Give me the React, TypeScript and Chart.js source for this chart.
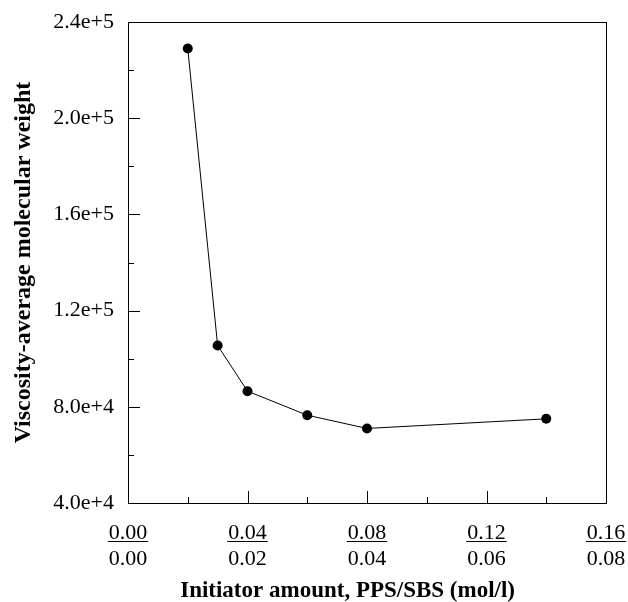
import React, { useEffect, useRef } from "react";
import { Chart, registerables } from "chart.js";

Chart.register(...registerables);

const xValues = [0.02, 0.03, 0.04, 0.06, 0.08, 0.14];
const yValues = [229000, 105500, 86500, 76500, 71000, 75000];
const xTickTop = ["0.00", "0.04", "0.08", "0.12", "0.16"];
const xTickBottom = ["0.00", "0.02", "0.04", "0.06", "0.08"];
const yTickLabels = ["4.0e+4", "8.0e+4", "1.2e+5", "1.6e+5", "2.0e+5", "2.4e+5"];
const xTitle = "Initiator amount, PPS/SBS (mol/l)";
const yTitle = "Viscosity-average molecular weight";

const SERIF = "'Liberation Serif', 'Times New Roman', serif";
const X_TICK_FONT = 22;

const framePlugin = {
  id: "frameTicks",
  afterDraw(chart: any) {
    const { ctx, chartArea } = chart;
    const xs = chart.scales.x;
    const ys = chart.scales.y;
    ctx.save();
    ctx.strokeStyle = "#000";
    ctx.lineWidth = 1;
    ctx.strokeRect(
      Math.round(chartArea.left) + 0.5,
      Math.round(chartArea.top) + 0.5,
      Math.round(chartArea.right - chartArea.left),
      Math.round(chartArea.bottom - chartArea.top)
    );
    ctx.beginPath();
    xs.ticks.forEach((_t: any, i: number) => {
      const px = Math.round(xs.getPixelForTick(i)) + 0.5;
      const len = i % 2 === 0 ? 12 : 6;
      ctx.moveTo(px, chartArea.bottom);
      ctx.lineTo(px, chartArea.bottom - len);
    });
    ys.ticks.forEach((_t: any, i: number) => {
      const py = Math.round(ys.getPixelForTick(i)) + 0.5;
      const len = i % 2 === 0 ? 12 : 6;
      ctx.moveTo(chartArea.left, py);
      ctx.lineTo(chartArea.left + len, py);
    });
    ctx.stroke();
    // fraction bars under the top line of each x tick label
    ctx.font = X_TICK_FONT + "px " + SERIF;
    ctx.beginPath();
    xs.ticks.forEach((_t: any, i: number) => {
      if (i % 2 !== 0) return;
      const label = xTickTop[i / 2];
      if (!label) return;
      const w = ctx.measureText(label).width;
      const px = xs.getPixelForTick(i);
      const by = Math.round(chartArea.bottom + 38) + 0.5;
      ctx.moveTo(px - w / 2 - 1, by);
      ctx.lineTo(px + w / 2 + 1, by);
    });
    ctx.stroke();
    // x axis title (sits slightly left of the plot centre in the original)
    ctx.fillStyle = "#000";
    ctx.font = "bold 23px " + SERIF;
    ctx.textAlign = "center";
    ctx.textBaseline = "middle";
    const tx = xs.getPixelForValue(0.0735);
    ctx.fillText(xTitle, tx, chartArea.bottom + 88);
    ctx.restore();
  },
};

export default function App() {
  const ref = useRef<HTMLCanvasElement | null>(null);

  useEffect(() => {
    if (!ref.current) return;
    const chart = new Chart(ref.current, {
      type: "line",
      data: {
        datasets: [
          {
            data: xValues.map((x, i) => ({ x, y: yValues[i] })),
            borderColor: "#000",
            borderWidth: 1,
            backgroundColor: "#000",
            pointBackgroundColor: "#000",
            pointBorderColor: "#000",
            pointRadius: 5,
            pointBorderWidth: 0,
            tension: 0,
            fill: false,
          },
        ],
      },
      options: {
        responsive: false,
        animation: false,
        layout: { padding: { top: 22, right: 22, left: 0, bottom: 0 } },
        plugins: { legend: { display: false }, tooltip: { enabled: false } },
        scales: {
          x: {
            type: "linear",
            min: 0,
            max: 0.16,
            grid: { display: false, drawTicks: false },
            border: { display: false },
            ticks: {
              stepSize: 0.02,
              autoSkip: false,
              maxRotation: 0,
              padding: 17,
              color: "#000",
              font: { family: SERIF, size: X_TICK_FONT, lineHeight: 1.2 },
              callback: (_v: any, i: number) =>
                i % 2 === 0 ? [xTickTop[i / 2], xTickBottom[i / 2]] : "",
            },
            title: { display: false },
            afterFit: (s: any) => {
              s.height = 99;
              s.paddingLeft = 0;
              s.paddingRight = 0;
            },
          },
          y: {
            type: "linear",
            min: 40000,
            max: 240000,
            grid: { display: false, drawTicks: false },
            border: { display: false },
            ticks: {
              stepSize: 20000,
              autoSkip: false,
              padding: 14,
              color: "#000",
              font: { family: SERIF, size: 22 },
              callback: (_v: any, i: number) => (i % 2 === 0 ? yTickLabels[i / 2] : ""),
            },
            title: {
              display: true,
              text: yTitle,
              color: "#000",
              font: { family: SERIF, size: 24, weight: "bold", lineHeight: 1.2 },
              padding: { top: 9, bottom: 0 },
            },
            afterFit: (s: any) => {
              s.width = 128;
              s.paddingTop = 0;
              s.paddingBottom = 0;
            },
          },
        },
      },
      plugins: [framePlugin],
    });
    return () => chart.destroy();
  }, []);

  return (
    <div style={{ position: "fixed", left: 0, top: 0, width: 628, height: 602, background: "#fff" }}>
      <canvas ref={ref} width={628} height={602} style={{ display: "block" }} />
    </div>
  );
}
